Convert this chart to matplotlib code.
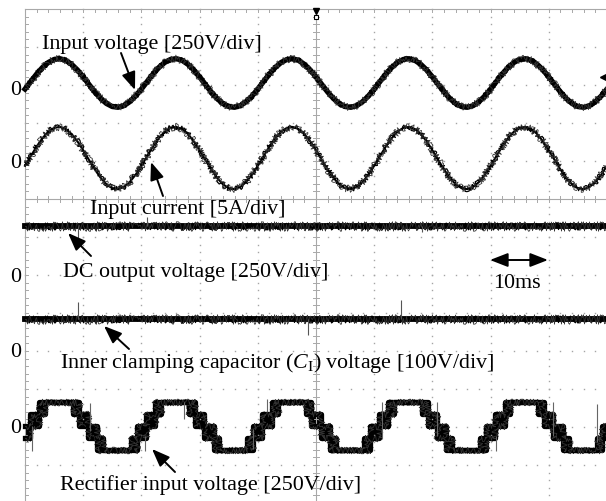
import numpy as np
import matplotlib.pyplot as plt

plt.rcParams['font.family'] = ['Liberation Serif', 'DejaVu Serif']
plt.rcParams['mathtext.fontset'] = 'custom'
plt.rcParams['mathtext.rm'] = 'Liberation Serif'
plt.rcParams['mathtext.it'] = 'Liberation Serif:italic'

# scope samples, 1 ms apart, 10 ms/div
t_ms = np.arange(0, 101)

# input voltage [V] (250 V/div)
v_in = [-40, 10, 59, 102, 135, 155, 160, 149, 123, 86, 40, -10, -59, -102, -135, -155, -160, -149, -123, -86,
        -40, 10, 59, 102, 135, 155, 160, 149, 123, 86, 40, -10, -59, -102, -135, -155, -160, -149, -123, -86,
        -40, 10, 59, 102, 135, 155, 160, 149, 123, 86, 40, -10, -59, -102, -135, -155, -160, -149, -123, -86,
        -40, 10, 59, 102, 135, 155, 160, 149, 123, 86, 40, -10, -59, -102, -135, -155, -160, -149, -123, -86,
        -40, 10, 59, 102, 135, 155, 160, 149, 123, 86, 40, -10, -59, -102, -135, -155, -160, -149, -123, -86,
        -40]

# input current [A] (5 A/div)
i_in = [-1.02, 0.26, 1.51, 2.61, 3.46, 3.97, 4.09, 3.81, 3.16, 2.20, 1.02, -0.26, -1.51, -2.61, -3.46, -3.97, -4.09, -3.81, -3.16, -2.20,
        -1.02, 0.26, 1.51, 2.61, 3.46, 3.97, 4.09, 3.81, 3.16, 2.20, 1.02, -0.26, -1.51, -2.61, -3.46, -3.97, -4.09, -3.81, -3.16, -2.20,
        -1.02, 0.26, 1.51, 2.61, 3.46, 3.97, 4.09, 3.81, 3.16, 2.20, 1.02, -0.26, -1.51, -2.61, -3.46, -3.97, -4.09, -3.81, -3.16, -2.20,
        -1.02, 0.26, 1.51, 2.61, 3.46, 3.97, 4.09, 3.81, 3.16, 2.20, 1.02, -0.26, -1.51, -2.61, -3.46, -3.97, -4.09, -3.81, -3.16, -2.20,
        -1.02, 0.26, 1.51, 2.61, 3.46, 3.97, 4.09, 3.81, 3.16, 2.20, 1.02, -0.26, -1.51, -2.61, -3.46, -3.97, -4.09, -3.81, -3.16, -2.20,
        -1.02]

# DC output voltage and inner clamping capacitor voltage [V]
dc_t = [0, 100]
v_dc = [320, 320]
v_c1 = [80, 80]
dc_spike_t = [9.1, 21.0, 68.2]
dc_spike_v = [235, 380, 280]
c1_spike_t = [9.1, 48.6, 64.6]
c1_spike_v = [125, 38, 130]

# rectifier input voltage: switching band between two levels [V]
rect_t = [0.0, 0.8, 2.4, 3.4,
          8.2, 9.2, 10.8, 12.4, 13.4, 18.2, 19.2, 20.8, 22.4, 23.4,
          28.2, 29.2, 30.8, 32.4, 33.4, 38.2, 39.2, 40.8, 42.4, 43.4,
          48.2, 49.2, 50.8, 52.4, 53.4, 58.2, 59.2, 60.8, 62.4, 63.4,
          68.2, 69.2, 70.8, 72.4, 73.4, 78.2, 79.2, 80.8, 82.4, 83.4,
          88.2, 89.2, 90.8, 92.4, 93.4, 98.2, 99.2, 100.0]
rect_lo = [-80, 0, 80, 160,
           80, 0, -80, -160, -160, -160, -80, 0, 80, 160,
           80, 0, -80, -160, -160, -160, -80, 0, 80, 160,
           80, 0, -80, -160, -160, -160, -80, 0, 80, 160,
           80, 0, -80, -160, -160, -160, -80, 0, 80, 160,
           80, 0, -80, -160, -160, -160, -80, -80]
rect_hi = [0, 80, 160, 160,
           160, 80, 0, -80, -160, -80, 0, 80, 160, 160,
           160, 80, 0, -80, -160, -80, 0, 80, 160, 160,
           160, 80, 0, -80, -160, -80, 0, 80, 160, 160,
           160, 80, 0, -80, -160, -80, 0, 80, 160, 160,
           160, 80, 0, -80, -160, -80, 0, 0]
rect_spike_t = [1.2, 11.2, 20.6, 27.3, 39.2, 41.6, 61.4, 70.8, 80.9, 90.7, 98.3]
rect_spike_lo = [-165, -30, -165, 46, -150, 100, -85, -66, -165, -66, -105]
rect_spike_hi = [0, 150, -66, 160, -20, 180, 160, 160, -66, 160, 145]


# pixel -> data helpers (layout only)
def px_x(p):
    return (p - 25) / 5.82


def px_y(p):
    return -(p - 10) / 38.0


def trace(x, y, core, fuzz, steps=False):
    # solid core plus thin jittered lines for the scope noise
    kw = dict(where='post') if steps else {}
    draw = ax.step if steps else ax.plot
    draw(x, y, color='k', lw=core, solid_joinstyle='round', **kw)
    ln, = draw(x, y, color='k', lw=0.9, **kw)
    ln.set_sketch_params(scale=fuzz, length=0.6, randomness=3)
    ln2, = draw(x, y, color='#333333', lw=0.6, **kw)
    ln2.set_sketch_params(scale=fuzz * 1.4, length=0.5, randomness=4)


fig = plt.figure(figsize=(6.06, 5.02), dpi=100)
ax = fig.add_axes([0, 0, 1, 1])
ax.set_xlim(px_x(0), px_x(606))
ax.set_ylim(px_y(502), px_y(0))
ax.axis('off')

grid_c = '#a5a5a5'
ybot = px_y(502)

# dotted graticule
minor_y = np.arange(0, ybot, -0.2)
minor_x = np.arange(0, 100.1, 2)
for gx in [10, 20, 30, 40, 60, 70, 80, 90]:
    ax.plot(np.full(len(minor_y), gx), minor_y, ls='none', marker='s', ms=1.0, mew=0, color=grid_c)
for gy in [-1, -2, -3, -4, -6, -7, -8, -9, -10, -11, -12]:
    ax.plot(minor_x, np.full(len(minor_x), gy), ls='none', marker='s', ms=1.0, mew=0, color=grid_c)

# border and centre axes with ticks
line_c = '#a8a8a8'
ax.plot([0, 0], [0, ybot], color=line_c, lw=0.8)
ax.plot([0, 101], [0, 0], color=line_c, lw=0.8)
ax.plot([50, 50], [0, ybot], color=line_c, lw=0.8)
ax.plot([0, 101], [-5, -5], color=line_c, lw=0.8)
tk_x = 3 / 5.82
tk_y = 3 / 38.0
for yy in minor_y:
    ax.plot([0, tk_x], [yy, yy], color=line_c, lw=0.7)
    ax.plot([50 - tk_x, 50 + tk_x], [yy, yy], color=line_c, lw=0.7)
for xx in minor_x:
    ax.plot([xx, xx], [0, -tk_y], color=line_c, lw=0.7)
    ax.plot([xx, xx], [-5 - tk_y, -5 + tk_y], color=line_c, lw=0.7)

# channel zero positions (div) and scales (units/div)
z1, s1 = px_y(84), 250.0
z2, s2 = px_y(159), 5.0
z3, s3 = px_y(227 + 48.6), 250.0
z4, s4 = px_y(320 + 30.4), 100.0
z5, s5 = px_y(427), 250.0

trace(t_ms, z1 + np.array(v_in) / s1, core=3.8, fuzz=2.6)
trace(t_ms, z2 + np.array(i_in) / s2, core=1.5, fuzz=2.6)
trace(dc_t, z3 + np.array(v_dc) / s3, core=4.2, fuzz=3.4)
trace(dc_t, z4 + np.array(v_c1) / s4, core=4.2, fuzz=3.4)
ax.vlines(dc_spike_t, z3 + v_dc[0] / s3, z3 + np.array(dc_spike_v) / s3, color='#555555', lw=0.8)
ax.vlines(c1_spike_t, z4 + v_c1[0] / s4, z4 + np.array(c1_spike_v) / s4, color='#555555', lw=0.8)

y_lo = z5 + np.array(rect_lo) / s5
y_hi = z5 + np.array(rect_hi) / s5
ax.fill_between(rect_t, y_lo, y_hi, step='post', color='k', lw=0)
trace(rect_t, y_lo, core=3.8, fuzz=2.4, steps=True)
trace(rect_t, y_hi, core=3.8, fuzz=2.4, steps=True)
ax.vlines(rect_spike_t, z5 + np.array(rect_spike_lo) / s5, z5 + np.array(rect_spike_hi) / s5,
          color='#666666', lw=0.8)

# markers
ax.plot([50], [px_y(12)], marker='v', ms=4, color='k')
ax.plot([50], [px_y(18)], marker='s', ms=3, mfc='white', mec='k', mew=0.8)
ax.plot([px_x(603)], [px_y(78)], marker='<', ms=5, color='k')

# labels
fs = 15.8
for yb in [95, 168, 282, 357, 433]:
    ax.text(px_x(21), px_y(yb), '0', fontsize=fs, ha='right', va='baseline')

ax.text(px_x(42), px_y(49), 'Input voltage [250V/div]', fontsize=fs, va='baseline')
ax.text(px_x(90), px_y(214), 'Input current [5A/div]', fontsize=fs, va='baseline')
ax.text(px_x(63), px_y(277), 'DC output voltage [250V/div]', fontsize=fs, va='baseline')
ax.text(px_x(493), px_y(288), '10ms', fontsize=fs, va='baseline')
ax.text(px_x(60), px_y(368), r'Inner clamping capacitor ($C_{\mathrm{I}}$) voltage [100V/div]',
        fontsize=fs, va='baseline')
ax.text(px_x(60), px_y(490), 'Rectifier input voltage [250V/div]', fontsize=fs, va='baseline')

arrow = dict(arrowstyle='-|>,head_length=0.9,head_width=0.35', color='k', lw=1.4,
             mutation_scale=12, shrinkA=0, shrinkB=0)
for tail, tip in [((121, 54), (135, 91)), ((163, 197), (151, 163)), ((91, 257), (68, 234)),
                  ((129, 350), (104, 327)), ((175, 473), (152, 450))]:
    ax.annotate('', xy=(px_x(tip[0]), px_y(tip[1])), xytext=(px_x(tail[0]), px_y(tail[1])),
                arrowprops=arrow)
ax.annotate('', xy=(px_x(548), px_y(261)), xytext=(px_x(490), px_y(261)),
            arrowprops=dict(arrowstyle='<|-|>,head_length=0.9,head_width=0.35', color='k', lw=1.4,
                            mutation_scale=12, shrinkA=0, shrinkB=0))

fig.savefig('out.png', dpi=100)
